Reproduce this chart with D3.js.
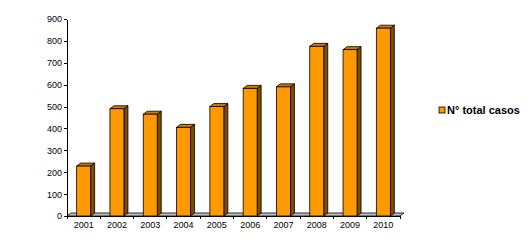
<!DOCTYPE html>
<html>
<head>
<meta charset="utf-8">
<script src="https://cdn.jsdelivr.net/npm/d3@7"></script>
<style>
  body { margin: 0; background: #fff; }
  .axis text { font-family: Arial, "Liberation Sans", sans-serif; font-size: 9px; fill: #000; }
  .axis path, .axis line { stroke: #000; shape-rendering: crispEdges; }
</style>
</head>
<body>
<script>
var years = ["2001", "2002", "2003", "2004", "2005", "2006", "2007", "2008", "2009", "2010"];
var casos = [228, 490, 465, 405, 500, 583, 590, 775, 760, 858];
var yTicks = [0, 100, 200, 300, 400, 500, 600, 700, 800, 900];
var seriesName = "N° total casos";

var svgWidth = 529, svgHeight = 248;
var plotLeft = 67, plotRight = 400, plotTop = 19, plotBottom = 216;
var dx = 4, dy = 3; // 3d depth

var svg = d3.select("body").append("svg")
  .attr("width", svgWidth)
  .attr("height", svgHeight);

var x = d3.scaleBand().domain(years).range([plotLeft, plotRight]);
var y = d3.scaleLinear().domain([0, 900]).range([plotBottom, plotTop]);

// floor
svg.append("path")
  .attr("d", `M${plotLeft},${plotBottom} L${plotRight},${plotBottom} L${plotRight + dx},${plotBottom - dy} L${plotLeft + dx},${plotBottom - dy} Z`)
  .attr("fill", "#c0c0c0")
  .attr("stroke", "#000")
  .attr("stroke-width", 0.8);

// bars
var bw = 14;
var bars = svg.selectAll(".bar")
  .data(years.map((yr, i) => ({ yr: yr, v: casos[i] })))
  .enter().append("g").attr("class", "bar");

bars.append("path") // side
  .attr("d", d => {
    var x1 = x(d.yr) + (x.bandwidth() - bw) / 2 + bw, yt = y(d.v);
    return `M${x1},${yt} L${x1 + dx},${yt - dy} L${x1 + dx},${plotBottom - dy} L${x1},${plotBottom} Z`;
  })
  .attr("fill", "#7f4c00").attr("stroke", "#000").attr("stroke-width", 0.8);

bars.append("path") // top
  .attr("d", d => {
    var x0 = x(d.yr) + (x.bandwidth() - bw) / 2, yt = y(d.v);
    return `M${x0},${yt} L${x0 + dx},${yt - dy} L${x0 + bw + dx},${yt - dy} L${x0 + bw},${yt} Z`;
  })
  .attr("fill", "#cc7a00").attr("stroke", "#000").attr("stroke-width", 0.8);

bars.append("rect") // front
  .attr("x", d => x(d.yr) + (x.bandwidth() - bw) / 2)
  .attr("y", d => y(d.v))
  .attr("width", bw)
  .attr("height", d => plotBottom - y(d.v))
  .attr("fill", "#ff9900").attr("stroke", "#000").attr("stroke-width", 0.8);

// y axis
svg.append("g")
  .attr("class", "axis")
  .attr("transform", `translate(${plotLeft},0)`)
  .call(d3.axisLeft(y).tickValues(yTicks).tickSize(3).tickSizeOuter(0).tickPadding(2));

// x axis
var xAxis = svg.append("g")
  .attr("class", "axis")
  .attr("transform", `translate(0,${plotBottom})`)
  .call(d3.axisBottom(x).tickSize(0).tickSizeOuter(0).tickPadding(6));

xAxis.selectAll(".edge")
  .data(d3.range(years.length + 1))
  .enter().append("line")
  .attr("x1", i => plotLeft + i * x.step())
  .attr("x2", i => plotLeft + i * x.step())
  .attr("y1", 0).attr("y2", 3)
  .attr("stroke", "#000");

// legend
var lg = svg.append("g").attr("transform", "translate(439,107)");
lg.append("rect").attr("width", 6).attr("height", 6)
  .attr("fill", "#ff9900").attr("stroke", "#000").attr("stroke-width", 0.8);
lg.append("text")
  .attr("x", 8).attr("y", 7)
  .style("font-family", "Arial, 'Liberation Sans', sans-serif")
  .style("font-size", "11px")
  .style("font-weight", "bold")
  .text(seriesName);
</script>
</body>
</html>
